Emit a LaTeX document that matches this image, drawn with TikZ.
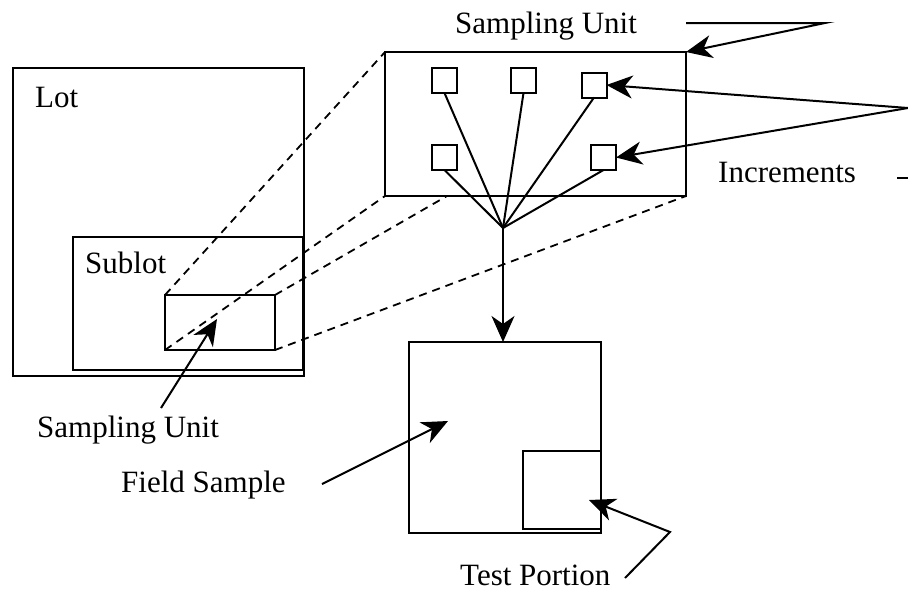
\documentclass[tikz,border=0pt]{standalone}
\usepackage{fontspec}
\setmainfont{Liberation Serif}
\usetikzlibrary{arrows.meta}
\begin{document}
\begin{tikzpicture}[x=1pt,y=-1pt,
  box/.style={draw,line width=2pt,inner sep=0pt,outer sep=0pt},
  sq/.style={box,minimum width=25pt,minimum height=25pt},
  lbl/.style={inner sep=0pt,anchor=base west,font=\fontsize{31}{36}\selectfont},
  ln/.style={line width=2pt},
  dsh/.style={line width=1.8pt,dash pattern=on 8pt off 6pt},
  arr/.style={line width=2pt,-{Stealth[length=26pt,width=23pt,inset=8pt]}}]
\useasboundingbox (0,0) rectangle (908,590);
% boxes
\node[box,minimum width=291pt,minimum height=308pt] (lot) at (158.5,222) {};
\node[box,minimum width=230pt,minimum height=133pt] (sublot) at (188,303.5) {};
\node[box,minimum width=110pt,minimum height=55pt] (su) at (220,322.5) {};
\node[box,minimum width=301pt,minimum height=144pt] (bigsu) at (535.5,124) {};
\node[box,minimum width=192pt,minimum height=191pt] (field) at (505,437.5) {};
\node[box,minimum width=78pt,minimum height=78pt] (test) at (562,490) {};
% increments
\node[sq] (s1) at (444.5,80.5) {};
\node[sq] (s2) at (523.5,80.5) {};
\node[sq] (s3) at (594,85) {};
\node[sq] (s4) at (444.5,157.5) {};
\node[sq] (s5) at (603.5,157.5) {};
\coordinate (conv) at (503,228);
\coordinate (bb) at (447,196);
% labels
\node[lbl] (tlot) at (35,107) {Lot};
\node[lbl] (tsub) at (85,273) {Sublot};
\node[lbl] (tsu1) at (455,33) {Sampling Unit};
\node[lbl] (tinc) at (718,182) {Increments};
\node[lbl] (tsu2) at (37,437) {Sampling Unit};
\node[lbl] (tfs) at (121,492) {Field Sample};
\node[lbl] (ttp) at (460,585) {Test Portion};
% dashed projection lines
\draw[dsh] (su.north west) -- (bigsu.north west);
\draw[dsh] (su.south west) -- (bigsu.south west);
\draw[dsh] (su.north east) -- (bb);
\draw[dsh] (su.south east) -- (bigsu.south east);
% increment lines
\foreach \s in {s1,s2,s3,s4,s5} \draw[ln] (\s.south) -- (conv);
\draw[arr] (conv) -- (field.north -| conv);
% pointer arrows
\coordinate (p1) at (686,23);
\coordinate (p2) at (825,23);
\coordinate (p3) at (908,108);
\coordinate (p4) at (897,178);
\coordinate (p5) at (908,178);
\coordinate (p6) at (625,578);
\coordinate (p7) at (670,532);
\coordinate (p8) at (161,408);
\coordinate (p9) at (322,484);
\draw[arr] (p1) -- (p2) -- (bigsu.north east);
\draw[arr] (p3) -- (s3.east);
\draw[arr] (p3) -- (s5.east);
\draw[ln] (p4) -- (p5);
\draw[arr] (p6) -- (p7) -- (589,500);
\draw[arr] (p8) -- (217,319);
\draw[arr] (p9) -- (448,421);
\end{tikzpicture}
\end{document}
